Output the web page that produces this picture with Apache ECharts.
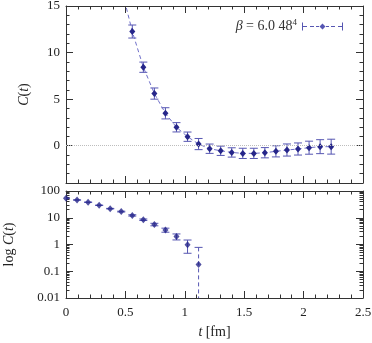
<!DOCTYPE html>
<html>
<head>
<meta charset="utf-8">
<script src="https://cdn.jsdelivr.net/npm/echarts@6/dist/echarts.min.js"></script>
<style>
  html, body { margin: 0; padding: 0; background: #fff; }
  #main { width: 372px; height: 343px; }
</style>
</head>
<body>
<div id="main"></div>
<script>
// time slices in fm
var times = [0, 0.093, 0.186, 0.279, 0.372, 0.465, 0.558, 0.651, 0.744, 0.837,
  0.93, 1.023, 1.116, 1.209, 1.302, 1.395, 1.488, 1.581, 1.674, 1.767,
  1.86, 1.953, 2.046, 2.139, 2.232];
// correlator C(t)
var corr = [53.3, 46.1, 38.0, 29.2, 21.9, 17.0, 12.26, 8.43, 5.6, 3.48,
  1.98, 0.97, 0.18, -0.32, -0.54, -0.72, -0.82, -0.82, -0.75, -0.6,
  -0.46, -0.35, -0.21, -0.1, -0.1];
// errors
var errs = [0.5, 0.5, 0.5, 0.5, 0.5, 0.6, 0.7, 0.55, 0.6, 0.6,
  0.5, 0.5, 0.6, 0.5, 0.5, 0.5, 0.55, 0.55, 0.55, 0.6,
  0.65, 0.65, 0.7, 0.75, 0.8];

var linTicks = [0, 5, 10, 15];
var logTicks = [0.01, 0.1, 1, 10, 100];
var logMinorTicks = [0.02, 0.03, 0.04, 0.05, 0.06, 0.07, 0.08, 0.09,
  0.2, 0.3, 0.4, 0.5, 0.6, 0.7, 0.8, 0.9,
  2, 3, 4, 5, 6, 7, 8, 9,
  20, 30, 40, 50, 60, 70, 80, 90];

var seriesName = 'beta';
var lineColor = '#6f6fc8';
var barColor = '#5656b2';
var pointColor = '#26268a';
var frameColor = '#333';
var font = '"Liberation Serif", "DejaVu Serif", serif';

var linData = times.map(function (t, i) { return [t, corr[i]]; });
var linErr = times.map(function (t, i) { return [t, corr[i], errs[i]]; });
var logData = [], logErr = [];
times.forEach(function (t, i) {
  if (corr[i] > 0) {
    logData.push([t, corr[i]]);
    logErr.push([t, corr[i], errs[i]]);
  }
});

function errRender(logMode) {
  return function (params, api) {
    var t = api.value(0), c = api.value(1), e = api.value(2);
    var hi = c + e, lo = c - e, dashed = false;
    if (logMode && lo <= 0) { lo = 0.01; dashed = true; }
    var p1 = api.coord([t, hi]);
    var p2 = api.coord([t, lo]);
    var w = 4;
    var st = { stroke: barColor, lineWidth: 1, fill: null };
    var kids = [
      { type: 'line', shape: { x1: p1[0], y1: p1[1], x2: p2[0], y2: p2[1] },
        style: { stroke: barColor, lineWidth: 1, lineDash: dashed ? [4, 3] : null } },
      { type: 'line', shape: { x1: p1[0] - w, y1: p1[1], x2: p1[0] + w, y2: p1[1] }, style: st }
    ];
    if (!dashed) {
      kids.push({ type: 'line', shape: { x1: p2[0] - w, y1: p2[1], x2: p2[0] + w, y2: p2[1] }, style: st });
    }
    return { type: 'group', children: kids };
  };
}

function xAx(grid, pos, labels) {
  var a = {
    type: 'value', gridIndex: grid, position: pos, min: 0, max: 2.5, interval: 0.5,
    axisLine: { show: true, onZero: false, lineStyle: { color: frameColor, width: 1 } },
    axisTick: { show: true, inside: true, length: 7, lineStyle: { color: frameColor } },
    minorTick: { show: true, splitNumber: 5, length: 3.5, lineStyle: { color: frameColor } },
    splitLine: { show: false },
    axisLabel: { show: labels, margin: 8, color: '#222', fontFamily: font, fontSize: 13 }
  };
  return a;
}

function yLin(pos, major, labels) {
  var a = {
    type: 'value', gridIndex: 0, position: pos, min: -4, max: 15,
    axisLine: { show: major, onZero: false, lineStyle: { color: frameColor, width: 1 } },
    splitLine: { show: false }
  };
  if (major) {
    a.axisTick = { show: true, inside: true, length: 7, customValues: linTicks, lineStyle: { color: frameColor } };
    a.axisLabel = { show: labels, customValues: linTicks, margin: 6, color: '#222', fontFamily: font, fontSize: 13 };
  } else {
    a.interval = 1;
    a.axisTick = { show: true, inside: true, length: 3.5, lineStyle: { color: frameColor } };
    a.axisLabel = { show: false };
  }
  return a;
}

function yLog(pos, major, labels) {
  var a = {
    type: 'log', logBase: 10, gridIndex: 1, position: pos, min: 0.01, max: 100,
    axisLine: { show: major, onZero: false, lineStyle: { color: frameColor, width: 1 } },
    splitLine: { show: false }
  };
  if (major) {
    a.axisTick = { show: true, inside: true, length: 7, customValues: logTicks, lineStyle: { color: frameColor } };
    a.axisLabel = { show: labels, customValues: logTicks, margin: 6, color: '#222', fontFamily: font, fontSize: 13,
      formatter: function (v) { return String(v); } };
  } else {
    a.axisTick = { show: true, inside: true, length: 3.5, customValues: logMinorTicks, lineStyle: { color: frameColor } };
    a.axisLabel = { show: false };
  }
  return a;
}

var nameRich = {
  i: { fontStyle: 'italic', fontFamily: font, fontSize: 14, color: '#222' },
  n: { fontFamily: font, fontSize: 14, color: '#222' }
};

var xAxes = [xAx(0, 'bottom', false), xAx(0, 'top', false), xAx(1, 'bottom', true), xAx(1, 'top', false)];
xAxes[2].name = '{i|t} {n|[fm]}';
xAxes[2].nameLocation = 'middle';
xAxes[2].nameGap = 27;
xAxes[2].nameTextStyle = { rich: nameRich };

var yAxes = [yLin('left', true, true), yLin('left', false), yLin('right', true, false), yLin('right', false),
  yLog('left', true, true), yLog('left', false), yLog('right', true, false), yLog('right', false)];
yAxes[0].name = '{i|C}{n|(}{i|t}{n|)}';
yAxes[0].nameLocation = 'middle';
yAxes[0].nameGap = 35;
yAxes[0].nameTextStyle = { rich: nameRich };
yAxes[4].name = '{n|log }{i|C}{n|(}{i|t}{n|)}';
yAxes[4].nameLocation = 'middle';
yAxes[4].nameGap = 50;
yAxes[4].nameTextStyle = { rich: nameRich };

var option = {
  animation: false,
  backgroundColor: '#fff',
  grid: [
    { left: 66, top: 6, width: 297, height: 177, containLabel: false, outerBoundsMode: 'none' },
    { left: 66, top: 191, width: 297, height: 107, containLabel: false, outerBoundsMode: 'none' }
  ],
  legend: {
    data: [seriesName],
    right: 24,
    top: 13,
    align: 'right',
    itemWidth: 41,
    itemHeight: 10,
    icon: 'path://M0,1H1V9H0ZM1,4.5H5V5.5H1ZM8,4.5H12V5.5H8ZM14,4.5H17V5.5H14ZM20.5,2L23.5,5L20.5,8L17.5,5ZM24,4.5H27V5.5H24ZM29,4.5H33V5.5H29ZM36,4.5H40V5.5H36ZM40,1H41V9H40Z',
    itemStyle: { color: barColor },
    formatter: function () { return '{i|β} = 6.0 48{s|4}'; },
    textStyle: {
      fontFamily: font, fontSize: 14, color: '#333',
      rich: {
        i: { fontStyle: 'italic', fontFamily: font, fontSize: 14, color: '#333' },
        s: { fontFamily: font, fontSize: 9, color: '#333', padding: [0, 0, 8, 0] }
      }
    }
  },
  xAxis: xAxes,
  yAxis: yAxes,
  series: [
    {
      type: 'custom', name: 'errTop', xAxisIndex: 0, yAxisIndex: 0,
      data: linErr, encode: { x: 0, y: 1 }, clip: true, z: 2,
      renderItem: errRender(false), silent: true
    },
    {
      type: 'line', name: seriesName, xAxisIndex: 0, yAxisIndex: 0,
      data: linData, clip: true, z: 3,
      symbol: 'diamond', symbolSize: [6, 7],
      itemStyle: { color: pointColor },
      lineStyle: { color: lineColor, width: 1, type: [4, 3] },
      markLine: {
        silent: true, symbol: ['none', 'none'], label: { show: false },
        lineStyle: { color: '#bdbdbd', type: 'dotted', width: 1 },
        data: [{ yAxis: 0 }]
      }
    },
    {
      type: 'custom', name: 'errLog', xAxisIndex: 2, yAxisIndex: 4,
      data: logErr, encode: { x: 0, y: 1 }, clip: true, z: 2,
      renderItem: errRender(true), silent: true
    },
    {
      type: 'scatter', name: 'logPts', xAxisIndex: 2, yAxisIndex: 4,
      data: logData, z: 3,
      symbol: 'diamond', symbolSize: [6, 7],
      itemStyle: { color: pointColor }
    }
  ]
};

var chart = echarts.init(document.getElementById('main'), null, { renderer: 'canvas' });
chart.setOption(option);
</script>
</body>
</html>
